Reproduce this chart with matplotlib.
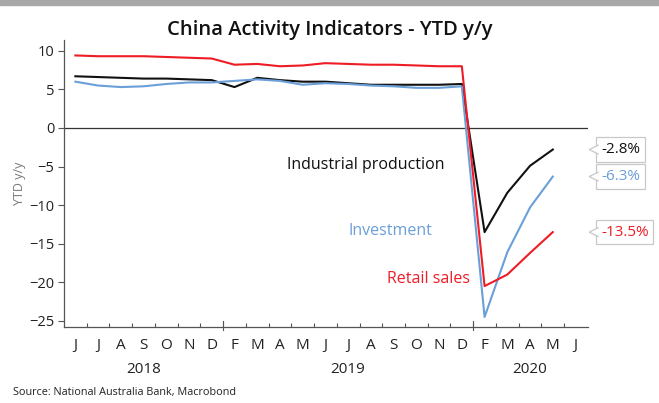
import matplotlib
matplotlib.use("Agg")
import matplotlib.pyplot as plt
from matplotlib.patches import Rectangle, Polygon
import matplotlib.transforms as mtransforms

plt.rcParams['font.family'] = ['Open Sans', 'DejaVu Sans']

# Jun 2018 .. Jun 2020, China skips January (Jan-Feb reported together)
months = ['J', 'J', 'A', 'S', 'O', 'N', 'D', 'F', 'M', 'A', 'M', 'J',
          'J', 'A', 'S', 'O', 'N', 'D', 'F', 'M', 'A', 'M', 'J']
years = ['2018', '2019', '2020']
year_centres = [3, 12, 20]
year_breaks = [6.5, 17.5]

industrial = [6.7, 6.6, 6.5, 6.4, 6.4, 6.3, 6.2, 5.3, 6.5, 6.2, 6.0,
              6.0, 5.8, 5.6, 5.6, 5.6, 5.6, 5.7, -13.5, -8.4, -4.9, -2.8]
investment = [6.0, 5.5, 5.3, 5.4, 5.7, 5.9, 5.9, 6.1, 6.3, 6.1, 5.6,
              5.8, 5.7, 5.5, 5.4, 5.2, 5.2, 5.4, -24.5, -16.1, -10.3, -6.3]
retail = [9.4, 9.3, 9.3, 9.3, 9.2, 9.1, 9.0, 8.2, 8.3, 8.0, 8.1,
          8.4, 8.3, 8.2, 8.2, 8.1, 8.0, 8.0, -20.5, -19.0, -16.2, -13.5]

BLACK = '#111111'
BLUE = '#6a9fd8'
RED = '#ee1c25'

fig = plt.figure(figsize=(6.59, 4.03), dpi=100)
fig.patches.append(Rectangle((0, 0.987), 1, 0.013, transform=fig.transFigure,
                             color='#a8a8a8', zorder=0))
ax = fig.add_axes([0.0971, 0.1886, 0.7952, 0.7121])

x = list(range(len(industrial)))
ax.plot(x, industrial, color=BLACK, lw=1.5)
ax.plot(x, investment, color=BLUE, lw=1.5)
ax.plot(x, retail, color=RED, lw=1.5)
ax.axhline(0, color='#333333', lw=0.9, zorder=1)

ax.set_xlim(-0.5, 22.55)
ax.set_ylim(-25.8, 11.4)

for s in ['top', 'right']:
    ax.spines[s].set_visible(False)
for s in ['left', 'bottom']:
    ax.spines[s].set_color('#555555')
    ax.spines[s].set_linewidth(0.9)

ax.set_yticks([10, 5, 0, -5, -10, -15, -20, -25])
ax.tick_params(axis='y', direction='out', length=4, width=0.8,
               color='#555555', labelsize=10.5, labelcolor='#222222', pad=3)

ax.set_xticks(range(len(months)))
ax.set_xticklabels(months)
ax.set_xticks([i + 0.5 for i in range(len(months) - 1)], minor=True)
ax.tick_params(axis='x', which='major', length=0, labelsize=11,
               labelcolor='#222222', pad=8)
ax.tick_params(axis='x', which='minor', direction='in', length=3,
               width=0.8, color='#555555')

# taller ticks where the year changes
trans = mtransforms.blended_transform_factory(ax.transData, ax.transAxes)
for b in year_breaks:
    ax.plot([b, b], [-0.012, 0.02], color='#555555', lw=0.8,
            transform=trans, clip_on=False)
for yr, c in zip(years, year_centres):
    ax.text(c, -0.147, yr, transform=trans, ha='center', va='center',
            fontsize=11, color='#222222')

ax.set_ylabel('YTD y/y', fontsize=9, color='#777777', labelpad=2)

fig.text(0.5, 0.925, 'China Activity Indicators - YTD y/y', ha='center',
         va='center', fontsize=14.5, fontweight='semibold', color='#111111')
fig.text(0.02, 0.026, 'Source: National Australia Bank, Macrobond',
         ha='left', va='center', fontsize=7.8, color='#222222')

ax.text(12.76, -4.8, 'Industrial production', color=BLACK, fontsize=11.5,
        ha='center', va='center')
ax.text(13.86, -13.4, 'Investment', color=BLUE, fontsize=11.5,
        ha='center', va='center')
ax.text(15.53, -19.6, 'Retail sales', color=RED, fontsize=11.5,
        ha='center', va='center')

# value tags on the right edge for the latest readings
for series, col in [(industrial, BLACK), (investment, BLUE), (retail, RED)]:
    v = series[-1]
    ax.text(23.12, v, f'{v:.1f}%', color=col, fontsize=11, ha='left',
            va='center', clip_on=False,
            bbox=dict(boxstyle='square,pad=0.3', fc='white',
                      ec='#c8c8c8', lw=0.9))
    ax.add_patch(Polygon([(23.02, v + 0.6), (22.6, v), (23.02, v - 0.6)],
                         closed=False, fc='white', ec='#c8c8c8', lw=0.9,
                         clip_on=False, zorder=5))

fig.savefig('out.png', dpi=100)
